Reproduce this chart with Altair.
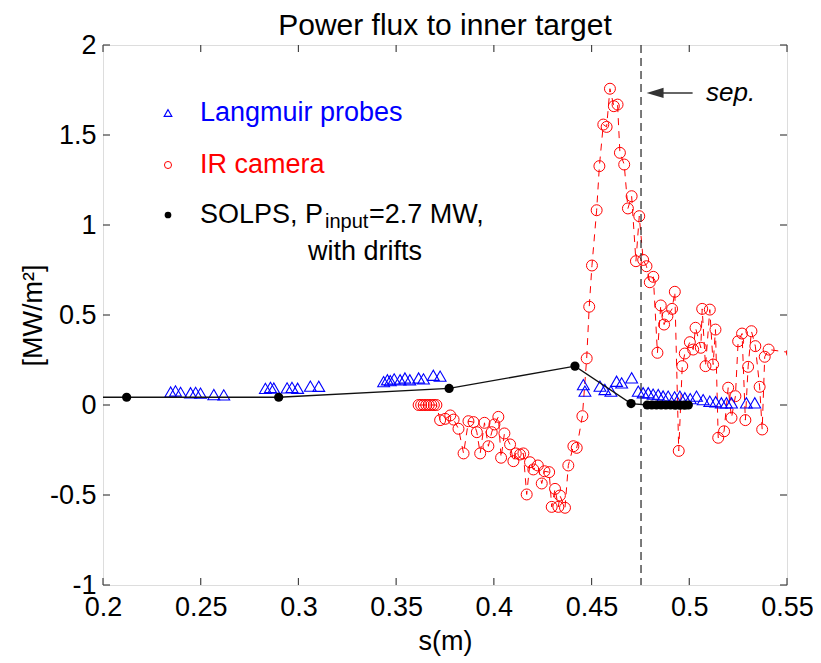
import altair as alt
import pandas as pd

# ---------------- data ----------------
ir_s = [0.3615, 0.3628, 0.3641, 0.3654, 0.3667, 0.3680, 0.3693, 0.3706,
        0.3725, 0.3751, 0.3777, 0.3794, 0.3819, 0.3845, 0.3870, 0.3896,
        0.3913, 0.3930, 0.3952, 0.3972, 0.3989, 0.4003, 0.4023, 0.4037,
        0.4054, 0.4083, 0.4100, 0.4112, 0.4134, 0.4151, 0.4168, 0.4185,
        0.4202, 0.4225, 0.4245, 0.4259, 0.4283, 0.4296, 0.4313, 0.4330,
        0.4338, 0.4364, 0.4381, 0.4407, 0.4424, 0.4453, 0.4475, 0.4488,
        0.4502, 0.4526, 0.4540, 0.4560, 0.4577, 0.4594, 0.4614, 0.4633,
        0.4645, 0.4667, 0.4686, 0.4705, 0.4727, 0.4744, 0.4764, 0.4781,
        0.4798, 0.4816, 0.4837, 0.4854, 0.4871, 0.4888, 0.4912, 0.4926,
        0.4946, 0.4964, 0.4977, 0.5003, 0.5020, 0.5032, 0.5059, 0.5066,
        0.5083, 0.5105, 0.5122, 0.5134, 0.5148, 0.5178, 0.5199, 0.5216,
        0.5236, 0.5250, 0.5270, 0.5287, 0.5301, 0.5318, 0.5338, 0.5360,
        0.5373, 0.5386, 0.5406, 0.5525]
ir_q = [0.000, 0.000, 0.000, 0.000, 0.000, 0.000, 0.000, 0.000,
        -0.084, -0.077, -0.058, -0.081, -0.132, -0.269, -0.090, -0.095,
        -0.151, -0.269, -0.099, -0.229, -0.151, -0.108, -0.066, -0.293,
        -0.158, -0.219, -0.312, -0.269, -0.275, -0.269, -0.497, -0.318,
        -0.358, -0.336, -0.436, -0.368, -0.373, -0.566, -0.466, -0.566,
        -0.503, -0.571, -0.336, -0.229, -0.238, -0.062, 0.259, 0.546,
        0.775, 1.082, 1.327, 1.558, 1.545, 1.757, 1.660, 1.669,
        1.401, 1.336, 1.092, 1.160, 0.799, 1.049, 0.806, 0.771,
        0.682, 0.712, 0.290, 0.553, 0.447, 0.493, 0.534, 0.629,
        -0.255, 0.216, 0.286, 0.349, 0.308, 0.429, 0.318, 0.534,
        0.216, 0.530, 0.225, 0.419, -0.182, -0.146, 0.096, -0.071,
        0.049, 0.354, 0.397, -0.084, 0.212, 0.410, 0.327, 0.101,
        -0.136, 0.268, 0.308, 0.290]

lp_s = [0.2346, 0.2371, 0.2397, 0.2448, 0.2474, 0.2499, 0.2567, 0.2618,
        0.2831, 0.2857, 0.2874, 0.2942, 0.2967, 0.2996, 0.3061, 0.3104,
        0.3436, 0.3455, 0.3470, 0.3490, 0.3520, 0.3545, 0.3570, 0.3615,
        0.3640, 0.3690, 0.3725,
        0.4458, 0.4466, 0.4543, 0.4568, 0.4599, 0.4628, 0.4654, 0.4705,
        0.4739, 0.4764, 0.4790, 0.4815, 0.4841, 0.4866, 0.4892, 0.4925,
        0.4952, 0.4977, 0.5005, 0.5037, 0.5071, 0.5105, 0.5135, 0.5164,
        0.5190, 0.5216, 0.5292, 0.5335]
lp_q = [0.072, 0.078, 0.070, 0.068, 0.070, 0.066, 0.058, 0.056,
        0.092, 0.098, 0.094, 0.095, 0.098, 0.093, 0.105, 0.104,
        0.130, 0.140, 0.135, 0.145, 0.140, 0.150, 0.140, 0.150,
        0.145, 0.165, 0.160,
        0.113, 0.077, 0.105, 0.086, 0.077, 0.132, 0.123, 0.151,
        0.077, 0.068, 0.068, 0.060, 0.058, 0.050, 0.049, 0.045,
        0.049, 0.040, 0.035, 0.049, 0.030, 0.021, 0.018, 0.012,
        0.012, 0.012, 0.012, 0.012]

solps_s = [0.2121, 0.2899, 0.3771, 0.4415, 0.4702, 0.4785, 0.4808, 0.4832,
           0.4856, 0.4880, 0.4904, 0.4928, 0.4952, 0.4976, 0.4995]
solps_q = [0.043, 0.043, 0.092, 0.216, 0.008, 0.000, 0.000, 0.000,
           0.000, 0.000, 0.000, -0.001, -0.001, -0.001, 0.000]
solps_line_start = 0.2   # the model curve is drawn from the left axis

sep_s = 0.4753
x_ticks = [0.2, 0.25, 0.3, 0.35, 0.4, 0.45, 0.5, 0.55]
y_ticks = [-1, -0.5, 0, 0.5, 1, 1.5, 2]

# ---------------- styling ----------------
FONT = "Liberation Sans"
W, H = 684, 540
TICK = 7

xs = alt.Scale(domain=[0.2, 0.55], nice=False, zero=False)
ys = alt.Scale(domain=[-1, 2], nice=False, zero=False)

x_axis = alt.Axis(values=x_ticks, labelExpr="datum.value + ''", ticks=False,
                  domain=False, grid=False, labelFont=FONT, labelFontSize=27,
                  labelColor="black", labelPadding=9, labelFlush=False,
                  labelOverlap=False, titleFont=FONT, titleFontSize=27,
                  titleFontWeight="normal", titleColor="black", titlePadding=8)
y_axis = alt.Axis(values=y_ticks, labelExpr="datum.value + ''", ticks=False,
                  domain=False, grid=False, labelFont=FONT, labelFontSize=27,
                  labelColor="black", labelPadding=7, labelFlush=False,
                  labelOverlap=False, titleFont=FONT, titleFontSize=27,
                  titleFontWeight="normal", titleColor="black", titlePadding=2)


def X(field="s"):
    return alt.X(f"{field}:Q", scale=xs, axis=x_axis, title="s(m)")


def Y(field="q"):
    return alt.Y(f"{field}:Q", scale=ys, axis=y_axis, title="[MW/m²]")


ir_df = pd.DataFrame({"s": ir_s, "q": ir_q})
lp_df = pd.DataFrame({"s": lp_s, "q": lp_q})
solps_df = pd.DataFrame({"s": solps_s, "q": solps_q})
solps_line_df = pd.DataFrame({"s": [solps_line_start] + solps_s,
                              "q": [solps_q[0]] + solps_q})

ir_line = alt.Chart(ir_df).mark_line(color="red", strokeDash=[7, 6],
                                     strokeWidth=1, clip=True).encode(x=X(), y=Y())
ir_pts = alt.Chart(ir_df).mark_point(shape="circle", filled=False, color="red",
                                     size=120, strokeWidth=1, opacity=1,
                                     clip=True).encode(x=X(), y=Y())
lp_pts = alt.Chart(lp_df).mark_point(shape="triangle-up", filled=False,
                                     color="blue", size=140, strokeWidth=1.1,
                                     opacity=1).encode(x=X(), y=Y())
solps_line = alt.Chart(solps_line_df).mark_line(color="#111", strokeWidth=1.3).encode(x=X(), y=Y())
solps_pts = alt.Chart(solps_df).mark_circle(color="black", size=85,
                                            opacity=1).encode(x=X(), y=Y())

sep_rule = alt.Chart(pd.DataFrame({"s": [sep_s]})).mark_rule(
    color="#222", strokeDash=[8, 5], strokeWidth=1.2).encode(x=X())

arrow_df = pd.DataFrame({"s": [0.4825], "s2": [0.5017], "q": [1.734]})
arrow_line = alt.Chart(arrow_df).mark_rule(color="#333", strokeWidth=1.5).encode(
    x=X(), x2="s2:Q", y=Y())
arrow_head = alt.Chart(arrow_df).mark_point(
    shape="M-1,0L1,-0.6L1,0.6Z", filled=True, color="#333", size=289,
    opacity=1).encode(x=X(), y=Y())
sep_text = alt.Chart(pd.DataFrame({"s": [0.5086], "q": [1.734], "t": ["sep."]})).mark_text(
    align="left", baseline="middle", font=FONT, fontSize=26, fontStyle="italic",
    color="black").encode(x=X(), y=Y(), text="t:N")

# inward ticks on all four sides
xt_df = pd.DataFrame({"s": x_ticks})
yt_df = pd.DataFrame({"q": y_ticks})
tick_style = dict(color="#444", strokeWidth=1.2)
t_bottom = alt.Chart(xt_df).mark_rule(**tick_style).encode(
    x=X(), y=alt.value(H), y2=alt.value(H - TICK))
t_top = alt.Chart(xt_df).mark_rule(**tick_style).encode(
    x=X(), y=alt.value(0), y2=alt.value(TICK))
t_left = alt.Chart(yt_df).mark_rule(**tick_style).encode(
    y=Y(), x=alt.value(0), x2=alt.value(TICK))
t_right = alt.Chart(yt_df).mark_rule(**tick_style).encode(
    y=Y(), x=alt.value(W), x2=alt.value(W - TICK))

# legend and title (drawn by hand, as in the reference)
one = pd.DataFrame({"a": [0]})
leg_tri = alt.Chart(one).mark_point(shape="triangle-up", filled=False, color="blue",
                                    size=60, strokeWidth=1.1, opacity=1).encode(
    x=alt.value(65), y=alt.value(68))
leg_circ = alt.Chart(one).mark_point(shape="circle", filled=False, color="red",
                                     size=50, strokeWidth=1, opacity=1).encode(
    x=alt.value(65), y=alt.value(120))
leg_dot = alt.Chart(one).mark_circle(color="black", size=45, opacity=1).encode(
    x=alt.value(65), y=alt.value(170))


def text_at(txt, x, y, color="black", size=27, align="left", baseline="middle"):
    return alt.Chart(one).mark_text(text=txt, align=align, baseline=baseline,
                                    font=FONT, fontSize=size, color=color).encode(
        x=alt.value(x), y=alt.value(y))


legend = [
    leg_tri, leg_circ, leg_dot,
    text_at("Langmuir probes", 97, 68, "blue"),
    text_at("IR camera", 97, 120, "red"),
    text_at("SOLPS, P", 97, 170),
    text_at("input", 222, 177, size=20),
    text_at("=2.7 MW,", 266, 170),
    text_at("with drifts", 319, 207, align="right"),
]
title = text_at("Power flux to inner target", W / 2, -10, size=30,
                align="center", baseline="alphabetic")

chart = alt.layer(
    ir_line, ir_pts, lp_pts, solps_line, solps_pts, sep_rule,
    arrow_line, arrow_head, sep_text,
    t_bottom, t_top, t_left, t_right,
    *legend, title,
).properties(
    width=W, height=H,
    autosize=alt.AutoSizeParams(type="none"),
    padding={"left": 95, "top": 37, "right": 26, "bottom": 74},
).configure_view(
    stroke="#444", strokeWidth=1.5
).configure(background="white")

chart.save("out.html", embed_options={"renderer": "svg", "actions": False})
